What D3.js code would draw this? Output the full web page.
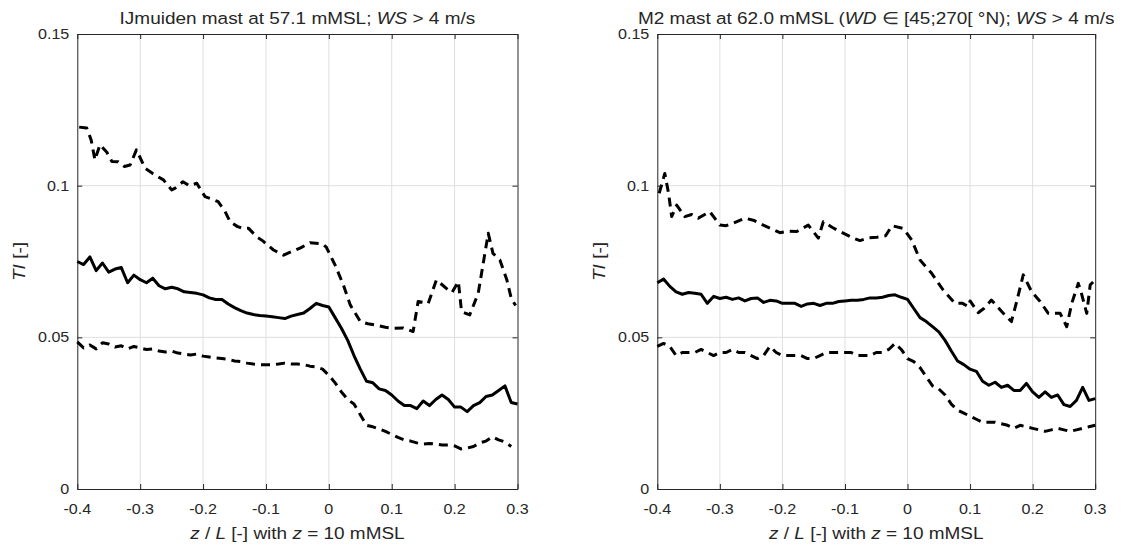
<!DOCTYPE html>
<html lang="en">
<head>
<meta charset="UTF-8">
<title>TI vs z/L</title>
<style>
    body { margin: 0; background: #fff; }
    text { font-family: 'Liberation Sans', Arial, sans-serif; fill: #262626; }
</style>
</head>
<body>
<svg class="chart"></svg>
<script src="https://d3js.org/d3.v7.min.js"></script>
<script>
// ---- data ----
var xTicks = [-0.4, -0.3, -0.2, -0.1, 0, 0.1, 0.2, 0.3];
var yTicks = [0, 0.05, 0.1, 0.15];

var gridX = [-0.40,-0.39,-0.38,-0.37,-0.36,-0.35,-0.34,-0.33,-0.32,-0.31,-0.30,-0.29,-0.28,-0.27,-0.26,-0.25,-0.24,-0.23,-0.22,-0.21,-0.20,-0.19,-0.18,-0.17,-0.16,-0.15,-0.14,-0.13,-0.12,-0.11,-0.10,-0.09,-0.08,-0.07,-0.06,-0.05,-0.04,-0.03,-0.02,-0.01,0.00,0.01,0.02,0.03,0.04,0.05,0.06,0.07,0.08,0.09,0.10,0.11,0.12,0.13,0.14,0.15,0.16,0.17,0.18,0.19,0.20,0.21,0.22,0.23,0.24,0.25,0.26,0.27,0.28,0.29,0.30];

// IJmuiden, median
var ijMed = [0.075,0.074,0.0765,0.072,0.0745,0.0715,0.0725,0.073,0.068,0.0705,0.069,0.068,0.0695,0.067,0.066,0.0665,0.066,0.065,0.0648,0.0645,0.064,0.063,0.0625,0.0625,0.061,0.0598,0.0588,0.058,0.0575,0.0572,0.057,0.0568,0.0565,0.0562,0.057,0.0575,0.058,0.0595,0.0612,0.0605,0.060,0.0565,0.053,0.049,0.044,0.0395,0.0355,0.035,0.033,0.0325,0.031,0.029,0.0275,0.0275,0.0265,0.029,0.0275,0.0295,0.031,0.0295,0.027,0.027,0.0255,0.0275,0.0285,0.0305,0.031,0.0325,0.034,0.0285,0.028];

// IJmuiden, lower dashed
var ijLoX = gridX.slice(0, 70);
var ijLo = [0.0485,0.0465,0.0475,0.0462,0.0482,0.0478,0.0468,0.0472,0.0462,0.047,0.0465,0.046,0.0462,0.0455,0.0452,0.0455,0.0448,0.0445,0.0442,0.0445,0.0438,0.0435,0.0432,0.043,0.0428,0.0422,0.042,0.0415,0.0412,0.041,0.041,0.041,0.0412,0.0415,0.0412,0.0412,0.041,0.0405,0.0402,0.0395,0.0375,0.035,0.032,0.0295,0.028,0.0245,0.021,0.0205,0.0198,0.019,0.018,0.017,0.0162,0.0158,0.0152,0.0148,0.015,0.0148,0.0145,0.0145,0.0142,0.0132,0.0135,0.014,0.0152,0.0158,0.0172,0.0162,0.0155,0.014];

// IJmuiden, upper dashed
var ijHiX = [-0.397,-0.385,-0.378,-0.372,-0.364,-0.353,-0.345,-0.335,-0.325,-0.316,-0.306,-0.292,-0.28,-0.263,-0.25,-0.245,-0.232,-0.222,-0.21,-0.197,-0.185,-0.176,-0.165,-0.157,-0.145,-0.136,-0.128,-0.115,-0.105,-0.095,-0.088,-0.072,-0.06,-0.045,-0.03,-0.01,-0.004,0.01,0.023,0.034,0.05,0.062,0.073,0.09,0.102,0.118,0.134,0.142,0.158,0.171,0.182,0.19,0.196,0.206,0.211,0.224,0.2375,0.2535,0.261,0.272,0.283,0.29,0.297];
var ijHi = [0.1193,0.119,0.1151,0.1085,0.1135,0.111,0.108,0.1079,0.1063,0.1068,0.1118,0.1057,0.104,0.1019,0.0986,0.0991,0.1013,0.1,0.1008,0.0964,0.0955,0.0947,0.0915,0.0881,0.0865,0.0859,0.086,0.0832,0.0818,0.080,0.0788,0.0771,0.0782,0.0795,0.0812,0.0808,0.0797,0.0738,0.0673,0.0607,0.0552,0.0545,0.0541,0.0533,0.053,0.0531,0.0519,0.0618,0.0612,0.0689,0.067,0.0656,0.0648,0.0684,0.0585,0.0574,0.0645,0.0843,0.0777,0.0755,0.069,0.0629,0.0605];

// M2, median
var m2Med = [0.068,0.0692,0.0668,0.065,0.0642,0.0648,0.0645,0.0642,0.0612,0.0635,0.0628,0.0632,0.0625,0.063,0.062,0.0628,0.063,0.0615,0.0622,0.062,0.0612,0.0612,0.0612,0.0602,0.061,0.0612,0.0605,0.0612,0.0612,0.0618,0.062,0.0622,0.0622,0.0625,0.063,0.063,0.0632,0.0638,0.064,0.0632,0.0625,0.0595,0.0565,0.0552,0.0535,0.0518,0.049,0.0455,0.0422,0.041,0.0395,0.0388,0.0355,0.0342,0.0352,0.0335,0.0342,0.0325,0.0325,0.0348,0.032,0.0302,0.032,0.0302,0.031,0.0278,0.0272,0.0292,0.0335,0.0292,0.0298];

// M2, lower dashed
var m2Lo = [0.047,0.048,0.047,0.044,0.045,0.045,0.045,0.046,0.045,0.044,0.045,0.045,0.046,0.045,0.045,0.044,0.043,0.044,0.047,0.045,0.044,0.044,0.044,0.044,0.043,0.043,0.044,0.045,0.045,0.045,0.045,0.045,0.044,0.044,0.044,0.045,0.045,0.046,0.048,0.046,0.043,0.042,0.040,0.037,0.034,0.033,0.031,0.028,0.026,0.025,0.024,0.023,0.022,0.022,0.022,0.0215,0.021,0.020,0.021,0.0205,0.020,0.0195,0.019,0.0195,0.020,0.0195,0.019,0.0195,0.020,0.0205,0.021];

// M2, upper dashed
var m2HiX = [-0.397,-0.388,-0.382,-0.377,-0.369,-0.356,-0.345,-0.3345,-0.316,-0.3,-0.29,-0.279,-0.26,-0.245,-0.2306,-0.204,-0.19,-0.177,-0.1586,-0.1426,-0.1346,-0.12,-0.108,-0.0867,-0.076,-0.062,-0.049,-0.035,-0.025,-0.0067,0.0067,0.02,0.0386,0.057,0.076,0.088,0.097,0.1,0.113,0.122,0.134,0.1505,0.166,0.1745,0.185,0.1985,0.212,0.225,0.244,0.2545,0.2625,0.273,0.278,0.2865,0.292,0.298];
var m2Hi = [0.0975,0.104,0.0975,0.0898,0.0936,0.0898,0.0905,0.0893,0.0914,0.087,0.0868,0.0876,0.0893,0.0885,0.087,0.0845,0.085,0.0849,0.087,0.0827,0.0881,0.0862,0.0849,0.0827,0.0819,0.0828,0.083,0.0835,0.0868,0.0859,0.0821,0.0755,0.0711,0.0656,0.0612,0.0612,0.0601,0.062,0.0581,0.0595,0.0623,0.0585,0.0552,0.0618,0.0706,0.065,0.0618,0.0579,0.0579,0.0535,0.0612,0.0678,0.0645,0.0579,0.0673,0.0685];

// ---- layout ----
var W = 1121, H = 544;
var yTop = 34, yBottom = 489;
var stretch = 1.15; // text in the reference is wider than tall

var svg = d3.select('.chart').attr('width', W).attr('height', H);

var panels = [
    {left: 77.3, right: 517.5, title: 'ij',
     lines: [[gridX, ijMed, null], [ijHiX, ijHi, '9,6'], [ijLoX, ijLo, '9,6']]},
    {left: 657.3, right: 1095.2, title: 'm2',
     lines: [[gridX, m2Med, null], [m2HiX, m2Hi, '9,6'], [gridX, m2Lo, '9,6']]}
];

function stretchedText(g, x, y, anchor, size, rotate) {
    var t = g.append('g')
        .attr('transform', `translate(${x},${y})` + (rotate ? ` rotate(${rotate})` : '') + ` scale(${stretch},1)`)
        .append('text')
        .attr('text-anchor', anchor)
        .style('font-size', size + 'px');
    return t;
}

panels.forEach(function(p) {
    var x = d3.scaleLinear().domain([-0.4, 0.3]).range([p.left, p.right]);
    var y = d3.scaleLinear().domain([0, 0.15]).range([yBottom, yTop]);
    var g = svg.append('g');

    // grid
    g.selectAll('.gx').data(xTicks.slice(1, -1)).enter().append('line')
        .attr('x1', d => x(d)).attr('x2', d => x(d)).attr('y1', yTop).attr('y2', yBottom)
        .attr('stroke', '#dfdfdf').attr('stroke-width', 1);
    g.selectAll('.gy').data(yTicks.slice(1, -1)).enter().append('line')
        .attr('y1', d => y(d)).attr('y2', d => y(d)).attr('x1', p.left).attr('x2', p.right)
        .attr('stroke', '#dfdfdf').attr('stroke-width', 1);

    // inward ticks on all four sides
    var xb = d3.axisBottom(x).tickValues(xTicks).tickSize(-5).tickSizeOuter(0).tickFormat('');
    var xt = d3.axisTop(x).tickValues(xTicks).tickSize(-5).tickSizeOuter(0).tickFormat('');
    var yl = d3.axisLeft(y).tickValues(yTicks).tickSize(-5).tickSizeOuter(0).tickFormat('');
    var yr = d3.axisRight(y).tickValues(yTicks).tickSize(-5).tickSizeOuter(0).tickFormat('');
    [[xb, `translate(0,${yBottom})`], [xt, `translate(0,${yTop})`],
     [yl, `translate(${p.left},0)`], [yr, `translate(${p.right},0)`]].forEach(function(a) {
        var ax = g.append('g').attr('transform', a[1]).call(a[0]);
        ax.select('.domain').attr('stroke', '#262626');
        ax.selectAll('.tick line').attr('stroke', '#262626');
    });

    // tick labels
    xTicks.forEach(function(v) {
        stretchedText(g, x(v), 514, 'middle', 14).text(String(v));
    });
    yTicks.forEach(function(v) {
        stretchedText(g, p.left - 8, y(v) + 5, 'end', 14).text(String(v));
    });

    // lines
    p.lines.forEach(function(l) {
        var pts = l[0].map((v, i) => [v, l[1][i]]);
        g.append('path')
            .attr('d', d3.line().x(d => x(d[0])).y(d => y(d[1]))(pts))
            .attr('fill', 'none')
            .attr('stroke', '#000')
            .attr('stroke-width', 3)
            .attr('stroke-linejoin', 'round')
            .attr('stroke-dasharray', l[2]);
    });

    var cx = (p.left + p.right) / 2;

    // title
    var tt = stretchedText(g, cx, 24, 'middle', 16.5);
    if (p.title === 'ij') {
        tt.append('tspan').text('IJmuiden mast at 57.1 mMSL; ');
        tt.append('tspan').style('font-style', 'italic').text('WS');
        tt.append('tspan').text(' > 4 m/s');
    } else {
        tt.append('tspan').text('M2 mast at 62.0 mMSL (');
        tt.append('tspan').style('font-style', 'italic').text('WD');
        tt.append('tspan').text(' \u2208 [45;270[ \u00b0N); ');
        tt.append('tspan').style('font-style', 'italic').text('WS');
        tt.append('tspan').text(' > 4 m/s');
    }

    // x label
    var xl = stretchedText(g, cx, 539, 'middle', 16.5);
    xl.append('tspan').style('font-style', 'italic').text('z');
    xl.append('tspan').text(' / ');
    xl.append('tspan').style('font-style', 'italic').text('L');
    xl.append('tspan').text(' [-] with ');
    xl.append('tspan').style('font-style', 'italic').text('z');
    xl.append('tspan').text(' = 10 mMSL');

    // y label
    var ylab = stretchedText(g, p.left - 52, (yTop + yBottom) / 2, 'middle', 16.5, -90);
    ylab.append('tspan').style('font-style', 'italic').text('TI');
    ylab.append('tspan').text(' [-]');
});
</script>
</body>
</html>
